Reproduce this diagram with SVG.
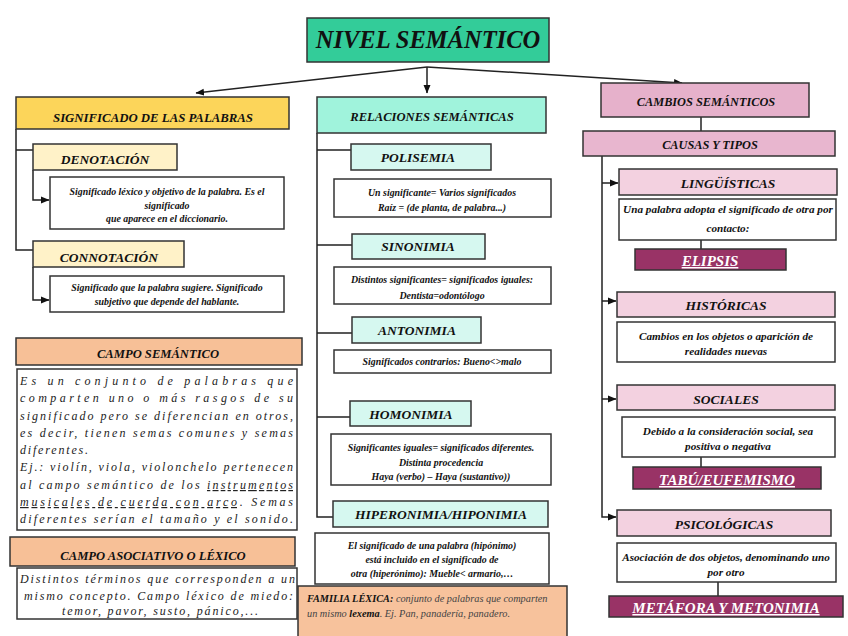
<svg xmlns="http://www.w3.org/2000/svg" width="848" height="636" viewBox="0 0 848 636">
<defs>
<marker id="ah" markerWidth="9" markerHeight="8" refX="8" refY="4" orient="auto" markerUnits="userSpaceOnUse"><path d="M0,0.5 L8.5,4 L0,7.5 z" fill="#111"/></marker>
<style>
.box{stroke:#333;stroke-width:1.5}
.tb{fill:#fff;stroke:#333;stroke-width:1.5}
.conn path{stroke:#222;stroke-width:1.5;fill:none}
.h{font-family:"Liberation Serif","DejaVu Serif",serif;font-style:italic;font-weight:bold;text-anchor:middle;fill:#111}
.s{font-size:13.5px}
.b{font-family:"Liberation Serif","DejaVu Serif",serif;font-style:italic;font-weight:bold;text-anchor:middle;fill:#111;font-size:9.9px}
.br{font-size:11.2px}
.w{fill:#fff;text-decoration:underline;font-size:15px}
.j{font-family:"Liberation Serif","DejaVu Serif",serif;font-style:italic;font-size:12px;fill:#222}
.u{text-decoration:underline}
</style>
</defs>
<rect width="848" height="636" fill="#fff"/>

<g id="connectors" class="conn">
<path d="M427,67 L196,93" marker-end="url(#ah)"/>
<path d="M427,67 L427,93" marker-end="url(#ah)"/>
<path d="M427,67 L682,83" marker-end="url(#ah)"/>
<path d="M16,129 V250 H33 M16,150 H33"/>
<path d="M33,170 V200 H49" marker-end="url(#ah)"/>
<path d="M33,267 V300 H49" marker-end="url(#ah)"/>
<path d="M317,133 V517 H333 M317,150 H351 M317,245 H352 M317,333 H352 M317,417 H350"/>
<path d="M701,117 V131"/>
<path d="M602,156 V517 H616" marker-end="url(#ah)"/>
<path d="M602,183 H618" marker-end="url(#ah)"/>
<path d="M602,301 H616" marker-end="url(#ah)"/>
<path d="M602,399 H616" marker-end="url(#ah)"/>
<path d="M701,240 V249"/>
<path d="M701,457 V467"/>
<path d="M718,582 V596"/>
</g>

<g id="nivel-semantico"><rect class="box" x="307" y="18" width="242" height="44" fill="#33cc99"/><text class="h" x="428" y="48" font-size="24.5">NIVEL SEMÁNTICO</text></g>

<g id="significado"><rect class="box" x="16" y="97" width="273" height="32" fill="#fcd55a"/><text class="h" x="153" y="122" font-size="12.8">SIGNIFICADO DE LAS PALABRAS</text></g>
<g id="denotacion"><rect class="box" x="33" y="144" width="144" height="26" fill="#fff2c8"/><text class="h s" x="105" y="164">DENOTACIÓN</text></g>
<g id="denotacion-texto"><rect class="tb" x="50" y="177" width="234" height="52"/><text class="b" x="167" y="195">Significado léxico y objetivo de la palabra. Es el</text><text class="b" x="167" y="209">significado</text><text class="b" x="167" y="222">que aparece en el diccionario.</text></g>
<g id="connotacion"><rect class="box" x="33" y="241" width="151" height="26" fill="#fff2c8"/><text class="h s" x="109" y="262">CONNOTACIÓN</text></g>
<g id="connotacion-texto"><rect class="tb" x="50" y="276" width="234" height="36"/><text class="b" x="167" y="291">Significado que la palabra sugiere. Significado</text><text class="b" x="167" y="305">subjetivo que depende del hablante.</text></g>

<g id="campo-semantico"><rect class="box" x="16" y="338" width="286" height="27" fill="#f7c097"/><text class="h" x="158" y="358" font-size="12.6">CAMPO SEMÁNTICO</text></g>
<g id="campo-semantico-texto"><rect class="tb" x="17" y="369" width="280" height="161"/>
<text class="j" x="20" y="385" textLength="273" lengthAdjust="spacing">Es un conjunto de palabras que</text>
<text class="j" x="20" y="402" textLength="273" lengthAdjust="spacing">comparten uno o más rasgos de su</text>
<text class="j" x="20" y="420" textLength="273" lengthAdjust="spacing">significado pero se diferencian en otros,</text>
<text class="j" x="20" y="437" textLength="273" lengthAdjust="spacing">es decir, tienen semas comunes y semas</text>
<text class="j" x="20" y="454" textLength="68" lengthAdjust="spacing">diferentes.</text>
<text class="j" x="20" y="471" textLength="273" lengthAdjust="spacing">Ej.: violín, viola, violonchelo pertenecen</text>
<text class="j" x="20" y="489" textLength="273" lengthAdjust="spacing">al campo semántico de los <tspan class="u">instrumentos</tspan></text>
<text class="j" x="20" y="506" textLength="273" lengthAdjust="spacing"><tspan class="u">musicales de cuerda con arco</tspan>. Semas</text>
<text class="j" x="20" y="523" textLength="273" lengthAdjust="spacing">diferentes serían el tamaño y el sonido.</text>
</g>
<g id="campo-asociativo"><rect class="box" x="10" y="537" width="285" height="29" fill="#f7c097"/><text class="h" x="153" y="560" font-size="12.6">CAMPO ASOCIATIVO O LÉXICO</text></g>
<g id="campo-asociativo-texto"><rect class="tb" x="17" y="568" width="280" height="51"/>
<text class="j" x="20" y="583" textLength="275" lengthAdjust="spacing">Distintos términos que corresponden a un</text>
<text class="j" x="24" y="600" textLength="269" lengthAdjust="spacing">mismo concepto. Campo léxico de miedo:</text>
<text class="j" x="62" y="615" textLength="196" lengthAdjust="spacing">temor, pavor, susto, pánico,...</text>
</g>

<g id="relaciones"><rect class="box" x="317" y="97" width="229" height="36" fill="#a0f3dc"/><text class="h" x="432" y="121" font-size="12.6">RELACIONES SEMÁNTICAS</text></g>
<g id="polisemia"><rect class="box" x="351" y="144" width="140" height="26" fill="#d6f8f0"/><text class="h s" x="418" y="162">POLISEMIA</text></g>
<g id="polisemia-texto"><rect class="tb" x="334" y="179" width="217" height="38"/><text class="b" x="442" y="196">Un significante= Varios significados</text><text class="b" x="442" y="211">Raíz = (de planta, de palabra...)</text></g>
<g id="sinonimia"><rect class="box" x="352" y="234" width="133" height="25" fill="#d6f8f0"/><text class="h s" x="418" y="251">SINONIMIA</text></g>
<g id="sinonimia-texto"><rect class="tb" x="334" y="267" width="217" height="37"/><text class="b" x="442" y="283">Distintos significantes= significados iguales:</text><text class="b" x="442" y="299">Dentista=odontólogo</text></g>
<g id="antonimia"><rect class="box" x="352" y="317" width="129" height="26" fill="#d6f8f0"/><text class="h s" x="417" y="335">ANTONIMIA</text></g>
<g id="antonimia-texto"><rect class="tb" x="334" y="350" width="217" height="23"/><text class="b" x="442" y="365">Significados contrarios: Bueno&lt;&gt;malo</text></g>
<g id="homonimia"><rect class="box" x="350" y="401" width="121" height="25" fill="#d6f8f0"/><text class="h s" x="411" y="419">HOMONIMIA</text></g>
<g id="homonimia-texto"><rect class="tb" x="331" y="434" width="220" height="51"/><text class="b" x="441" y="451">Significantes iguales= significados diferentes.</text><text class="b" x="441" y="466">Distinta procedencia</text><text class="b" x="441" y="480">Haya (verbo) – Haya (sustantivo))</text></g>
<g id="hiperonimia"><rect class="box" x="333" y="501" width="215" height="26" fill="#d6f8f0"/><text class="h s" x="441" y="519">HIPERONIMIA/HIPONIMIA</text></g>
<g id="hiperonimia-texto"><rect class="tb" x="315" y="533" width="234" height="51"/><text class="b" x="432" y="549">El significado de una palabra (hipónimo)</text><text class="b" x="432" y="563">está incluido en el significado de</text><text class="b" x="432" y="577">otra (hiperónimo): Mueble&lt; armario,…</text></g>
<g id="familia-lexica"><rect class="box" x="298" y="586" width="269" height="52" fill="#f7c29c"/>
<text x="307" y="602" font-family="Liberation Serif, DejaVu Serif, serif" font-style="italic" font-size="10.3" fill="#444"><tspan font-weight="bold" fill="#111">FAMILIA LÉXICA:</tspan> conjunto de palabras que comparten</text>
<text x="307" y="617" font-family="Liberation Serif, DejaVu Serif, serif" font-style="italic" font-size="10.3" fill="#444">un mismo <tspan font-weight="bold" fill="#111">lexema</tspan>. Ej. Pan, panadería, panadero.</text></g>

<g id="cambios"><rect class="box" x="601" y="83" width="208" height="34" fill="#e6b1cb"/><text class="h" x="706" y="106" font-size="12.3">CAMBIOS SEMÁNTICOS</text></g>
<g id="causas"><rect class="box" x="583" y="131" width="252" height="25" fill="#e8b6cf"/><text class="h" x="710" y="149" font-size="12.3">CAUSAS Y TIPOS</text></g>
<g id="linguisticas"><rect class="box" x="619" y="169" width="218" height="26" fill="#f3d1e0"/><text class="h s" x="728" y="188">LINGÜÍSTICAS</text></g>
<g id="linguisticas-texto"><rect class="tb" x="619" y="199" width="217" height="41"/><text class="b br" x="728" y="213">Una palabra adopta el significado de otra por</text><text class="b br" x="728" y="232">contacto:</text></g>
<g id="elipsis"><rect class="box" x="635" y="249" width="151" height="21" fill="#993366"/><text class="h w" x="710" y="266">ELIPSIS</text></g>
<g id="historicas"><rect class="box" x="617" y="292" width="218" height="25" fill="#f3d1e0"/><text class="h s" x="726" y="310">HISTÓRICAS</text></g>
<g id="historicas-texto"><rect class="tb" x="617" y="322" width="218" height="40"/><text class="b br" x="726" y="340">Cambios en los objetos o aparición de</text><text class="b br" x="726" y="355">realidades nuevas</text></g>
<g id="sociales"><rect class="box" x="617" y="385" width="218" height="25" fill="#f3d1e0"/><text class="h s" x="726" y="404">SOCIALES</text></g>
<g id="sociales-texto"><rect class="tb" x="622" y="417" width="213" height="40"/><text class="b br" x="728" y="435">Debido a la consideración social, sea</text><text class="b br" x="728" y="450">positiva o negativa</text></g>
<g id="tabu"><rect class="box" x="633" y="467" width="188" height="22" fill="#993366"/><text class="h w" x="727" y="485">TABÚ/EUFEMISMO</text></g>
<g id="psicologicas"><rect class="box" x="617" y="510" width="214" height="26" fill="#f3d1e0"/><text class="h s" x="724" y="529">PSICOLÓGICAS</text></g>
<g id="psicologicas-texto"><rect class="tb" x="617" y="543" width="219" height="39"/><text class="b br" x="726" y="561">Asociación de dos objetos, denominando uno</text><text class="b br" x="726" y="576">por otro</text></g>
<g id="metafora"><rect class="box" x="609" y="596" width="234" height="21" fill="#993366"/><text class="h w" x="726" y="613">METÁFORA Y METONIMIA</text></g>
</svg>
